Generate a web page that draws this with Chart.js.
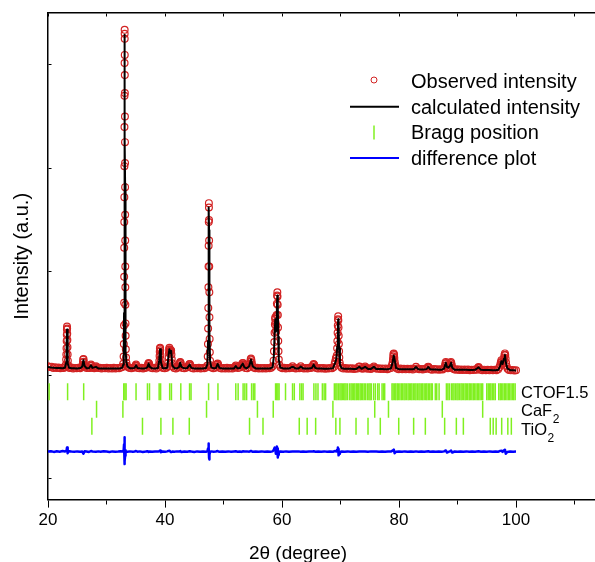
<!DOCTYPE html>
<html>
<head>
<meta charset="utf-8">
<script src="https://cdn.jsdelivr.net/npm/chart.js@4/dist/chart.umd.min.js"></script>
<style>
  html, body { margin: 0; padding: 0; background: #fff; }
  canvas { display: block; }
</style>
</head>
<body>
<canvas id="xrd" width="595" height="562"></canvas>
<script>
// observed points (arbitrary units)
const obsTwoTheta = [
  20.0, 20.3, 20.6, 20.9, 21.2, 21.5, 21.8, 22.1, 22.4, 22.7, 22.95,
  23.05, 23.1, 23.13, 23.16, 23.19, 23.21, 23.23, 23.25, 23.27, 23.29, 23.31, 23.33, 23.36, 23.39, 23.43, 23.5,
  23.7, 24.0, 24.3, 24.6, 24.9, 25.2, 25.5, 25.75,
  25.9, 25.97, 26.02, 26.07, 26.12, 26.18, 26.3, 26.6, 26.9, 27.15,
  27.27, 27.35, 27.43, 27.6, 27.9, 28.1, 28.2, 28.3, 28.55, 28.85,
  29.15, 29.45, 29.75, 30.05, 30.35, 30.65, 30.95, 31.25, 31.55, 31.85, 32.15, 32.45, 32.7,
  32.85, 32.92, 32.96, 32.99, 33.01, 33.02, 33.03, 33.04, 33.05, 33.06, 33.07, 33.08, 33.09, 33.1, 33.102, 33.11, 33.12,
  33.13, 33.14, 33.15, 33.16, 33.17, 33.18, 33.19, 33.2, 33.21, 33.22, 33.23, 33.25, 33.27, 33.3, 33.34, 33.4, 33.5,
  33.65, 33.95, 34.25, 34.55, 34.8, 34.95, 35.05, 35.15, 35.35, 35.65, 35.95, 36.25, 36.55, 36.85,
  37.05, 37.13, 37.2, 37.28, 37.36, 37.6, 37.9, 38.2, 38.5, 38.8,
  38.98, 39.03, 39.07, 39.1, 39.13, 39.16, 39.19, 39.22, 39.26, 39.31, 39.4,
  39.65, 39.95, 40.25, 40.45,
  40.55, 40.62, 40.67, 40.71, 40.75, 40.79, 40.84, 40.9, 40.95, 41.0, 41.05, 41.1, 41.15, 41.2, 41.3,
  41.55, 41.85, 42.15, 42.4, 42.5, 42.56, 42.62, 42.68, 42.76, 43.0, 43.3, 43.6, 43.9,
  44.08, 44.17, 44.25, 44.34, 44.6, 44.9, 45.2, 45.5, 45.8, 46.1, 46.4, 46.7, 47.0, 47.2,
  47.3, 47.34, 47.37, 47.4, 47.42, 47.44, 47.46, 47.48, 47.5, 47.51,
  47.52, 47.54, 47.56, 47.58, 47.6, 47.63, 47.66, 47.7, 47.78,
  47.95, 48.25, 48.55, 48.8, 48.9, 48.98, 49.06, 49.14, 49.4, 49.7,
  50.0, 50.3, 50.6, 50.9, 51.2, 51.5, 51.8, 52.0, 52.1, 52.2, 52.45, 52.75,
  53.05, 53.15, 53.25, 53.33, 53.42, 53.52, 53.75, 54.05, 54.3,
  54.5, 54.58, 54.64, 54.7, 54.77, 54.84, 54.93,
  55.15, 55.45, 55.75, 56.05, 56.35, 56.65, 56.95, 57.25, 57.55, 57.85, 58.15, 58.4,
  58.55, 58.62, 58.68, 58.73, 58.78, 58.82, 58.86, 58.9, 58.95, 59.0, 59.04, 59.08,
  59.12, 59.16, 59.2, 59.23, 59.26, 59.29, 59.32, 59.36, 59.4, 59.45, 59.53,
  59.75, 60.05, 60.35, 60.65, 60.95, 61.25, 61.55, 61.8, 62.05, 62.35, 62.65, 62.95,
  63.2, 63.45, 63.75, 64.05, 64.35, 64.65, 64.95, 65.2, 65.32, 65.4, 65.5, 65.6,
  65.85, 66.15, 66.45, 66.75, 67.05, 67.35, 67.65, 67.95, 68.25, 68.55, 68.85,
  69.0, 69.1, 69.2, 69.28, 69.36, 69.42, 69.46, 69.5, 69.53, 69.57,
  69.6, 69.63, 69.66, 69.69, 69.72, 69.76, 69.8, 69.86, 69.95,
  70.2, 70.5, 70.8, 71.1, 71.4, 71.7, 72.0, 72.3, 72.6, 72.9, 73.15, 73.25,
  73.5, 73.8, 74.05, 74.2, 74.35, 74.6, 74.9, 75.2, 75.5, 75.7, 75.9,
  76.2, 76.5, 76.8, 77.1, 77.4, 77.7, 78.0, 78.3, 78.6, 78.8,
  78.9, 78.96, 79.01, 79.06, 79.1, 79.15, 79.2, 79.26, 79.33, 79.42,
  79.65, 79.95, 80.25, 80.55, 80.85, 81.15, 81.45, 81.75, 82.05, 82.35, 82.65, 82.9,
  83.15, 83.45, 83.75, 84.05, 84.35, 84.65, 84.9, 85.0, 85.1, 85.35,
  85.65, 85.95, 86.25, 86.55, 86.85, 87.15, 87.45, 87.7,
  87.85, 87.93, 88.0, 88.06, 88.13, 88.22, 88.35, 88.5, 88.62, 88.72, 88.8, 88.88, 88.95, 89.03, 89.15,
  89.4, 89.7, 90.0, 90.3, 90.6, 90.9, 91.2, 91.5, 91.8, 92.1, 92.4, 92.7,
  93.0, 93.3, 93.5, 93.6, 93.7, 93.95, 94.25, 94.55, 94.85, 95.15, 95.45, 95.75,
  96.05, 96.35, 96.65, 96.95, 97.15,
  97.3, 97.4, 97.5, 97.6, 97.7, 97.8, 97.9, 97.97, 98.03, 98.1, 98.16, 98.22, 98.3, 98.4, 98.55,
  98.8, 99.1, 99.4, 99.7, 100.0
];
const observed = [
  1085, 1078, 1082, 1070, 1076, 1068, 1073, 1066, 1072, 1069, 1078,
  1100, 1150, 1200, 1260, 1330, 1390, 1440, 1470, 1450, 1400, 1340, 1270, 1200, 1140, 1095, 1075,
  1068, 1073, 1064, 1070, 1066, 1072, 1067, 1078,
  1095, 1125, 1150, 1155, 1130, 1100, 1080, 1068, 1072, 1070,
  1088, 1102, 1090, 1072, 1066, 1074, 1085, 1076, 1068, 1071,
  1064, 1070, 1066, 1072, 1063, 1069, 1065, 1071, 1064, 1070, 1066, 1073, 1078,
  1110, 1180, 1300, 1480, 1700, 1950, 2230, 2480, 2720, 3020, 3398, 3700, 4017, 4337, 4300, 4250, 4095,
  3900, 3727, 3500, 3252, 3050, 2817, 2550, 2300, 2050, 1850, 1680, 1500, 1380, 1250, 1170, 1120, 1090,
  1078, 1070, 1066, 1072, 1076, 1090, 1102, 1088, 1070, 1066, 1072, 1064, 1070, 1074,
  1090, 1108, 1118, 1110, 1090, 1072, 1066, 1071, 1065, 1074,
  1100, 1140, 1185, 1225, 1258, 1265, 1240, 1195, 1150, 1105, 1080,
  1070, 1066, 1072, 1085,
  1120, 1170, 1215, 1250, 1265, 1245, 1220, 1225, 1232, 1240, 1235, 1200, 1155, 1115, 1085,
  1070, 1065, 1071, 1082, 1105, 1122, 1128, 1115, 1092, 1070, 1066, 1072, 1080,
  1095, 1106, 1108, 1092, 1070, 1064, 1070, 1066, 1072, 1064, 1069, 1066, 1073, 1090,
  1180, 1300, 1450, 1650, 1850, 2050, 2250, 2480, 2662, 2620,
  2500, 2300, 2050, 1800, 1560, 1350, 1220, 1140, 1095,
  1074, 1066, 1071, 1082, 1100, 1112, 1108, 1088, 1070, 1064,
  1070, 1065, 1071, 1063, 1069, 1065, 1072, 1082, 1092, 1078, 1068, 1073,
  1090, 1105, 1116, 1118, 1102, 1085, 1070, 1066, 1078,
  1105, 1130, 1152, 1160, 1145, 1118, 1092,
  1074, 1066, 1071, 1064, 1069, 1065, 1070, 1063, 1068, 1066, 1072, 1085,
  1140, 1230, 1320, 1410, 1490, 1545, 1560, 1510, 1430, 1420, 1480, 1580,
  1690, 1770, 1800, 1760, 1680, 1580, 1460, 1330, 1230, 1150, 1100,
  1075, 1066, 1071, 1064, 1069, 1066, 1072, 1085, 1070, 1065, 1070, 1066,
  1086, 1070, 1064, 1069, 1065, 1071, 1068, 1080, 1098, 1108, 1100, 1082,
  1068, 1064, 1069, 1063, 1068, 1062, 1067, 1064, 1070, 1066, 1078,
  1110, 1135, 1160, 1168, 1190, 1260, 1330, 1410, 1480, 1540,
  1568, 1530, 1460, 1380, 1300, 1230, 1170, 1120, 1090,
  1072, 1065, 1069, 1062, 1067, 1061, 1066, 1060, 1065, 1063, 1080, 1084,
  1066, 1061, 1068, 1084, 1070, 1062, 1066, 1060, 1068, 1084, 1068,
  1061, 1066, 1059, 1064, 1060, 1065, 1058, 1063, 1068, 1095,
  1120, 1150, 1180, 1205, 1210, 1195, 1165, 1130, 1100, 1078,
  1064, 1058, 1063, 1057, 1062, 1056, 1061, 1057, 1062, 1055, 1062, 1080,
  1064, 1056, 1060, 1055, 1060, 1062, 1076, 1082, 1074, 1058,
  1053, 1059, 1054, 1058, 1052, 1057, 1054, 1066,
  1090, 1112, 1128, 1118, 1095, 1075, 1066, 1070, 1082, 1100, 1118, 1128, 1115, 1092, 1068,
  1056, 1051, 1056, 1050, 1055, 1049, 1054, 1050, 1055, 1048, 1053, 1049,
  1054, 1052, 1072, 1078, 1066, 1052, 1048, 1053, 1047, 1052, 1046, 1051,
  1047, 1052, 1048, 1056, 1075,
  1100, 1125, 1145, 1130, 1112, 1115, 1140, 1170, 1195, 1210, 1195, 1160, 1120, 1085, 1062,
  1050, 1046, 1049, 1044, 1046
];

// calculated profile and difference curve share one 2theta grid
const calcTwoTheta = [
  20.0, 20.5, 21.0, 21.5, 22.0, 22.5, 22.9, 23.1, 23.18, 23.25,
  23.32, 23.4, 23.6, 24.0, 24.5, 25.0, 25.5, 25.85, 26.05, 26.25,
  26.6, 27.0, 27.35, 27.6, 28.2, 28.6, 29.0, 29.5, 30.0, 30.5,
  31.0, 31.5, 32.0, 32.4, 32.7, 32.85, 32.95, 33.0, 33.03, 33.05,
  33.07, 33.09, 33.1, 33.12, 33.14, 33.16, 33.18, 33.21, 33.25, 33.3,
  33.4, 33.6, 34.0, 34.5, 34.8, 35.05, 35.3, 35.7, 36.2, 36.7,
  37.0, 37.2, 37.4, 37.8, 38.3, 38.8, 39.0, 39.15, 39.3, 39.6,
  40.0, 40.4, 40.6, 40.75, 40.9, 41.05, 41.25, 41.6, 42.0, 42.4,
  42.6, 42.8, 43.3, 43.8, 44.2, 44.5, 45.0, 45.5, 46.0, 46.5,
  47.0, 47.25, 47.35, 47.42, 47.47, 47.5, 47.53, 47.57, 47.62, 47.7,
  47.9, 48.3, 48.7, 49.0, 49.3, 49.8, 50.3, 50.8, 51.3, 51.8,
  52.1, 52.4, 52.8, 53.1, 53.3, 53.6, 54.0, 54.4, 54.7, 55.0,
  55.5, 56.0, 56.5, 57.0, 57.5, 58.0, 58.4, 58.6, 58.75, 58.85,
  58.95, 59.05, 59.12, 59.2, 59.28, 59.35, 59.45, 59.7, 60.2, 60.7,
  61.2, 61.8, 62.3, 62.8, 63.2, 63.6, 64.1, 64.6, 65.1, 65.4,
  65.7, 66.2, 66.7, 67.2, 67.7, 68.2, 68.7, 69.1, 69.3, 69.45,
  69.55, 69.6, 69.67, 69.75, 69.9, 70.2, 70.7, 71.2, 71.7, 72.2,
  72.7, 73.2, 73.6, 74.2, 74.7, 75.2, 75.7, 76.1, 76.6, 77.1,
  77.6, 78.1, 78.6, 78.9, 79.1, 79.25, 79.5, 80.0, 80.5, 81.0,
  81.5, 82.0, 82.5, 82.9, 83.3, 83.8, 84.3, 84.7, 85.0, 85.3,
  85.8, 86.3, 86.8, 87.3, 87.7, 88.0, 88.2, 88.45, 88.7, 88.9,
  89.1, 89.5, 90.0, 90.5, 91.0, 91.5, 92.0, 92.5, 93.0, 93.6,
  94.0, 94.5, 95.0, 95.5, 96.0, 96.5, 97.0, 97.3, 97.5, 97.7,
  97.95, 98.1, 98.25, 98.5, 99.0, 99.5, 100.0
];
const calculated = [
  1078, 1074, 1071, 1069, 1068, 1067, 1072, 1120, 1280, 1440,
  1290, 1115, 1072, 1067, 1066, 1065, 1068, 1082, 1145, 1088,
  1067, 1066, 1095, 1070, 1080, 1065, 1064, 1064, 1065, 1064,
  1063, 1064, 1064, 1066, 1072, 1100, 1270, 1600, 2150, 2650,
  3350, 4000, 4290, 4150, 3800, 3300, 2850, 2060, 1490, 1240,
  1125, 1082, 1067, 1066, 1070, 1095, 1069, 1066, 1065, 1066,
  1078, 1112, 1080, 1066, 1065, 1068, 1140, 1250, 1125, 1068,
  1066, 1072, 1190, 1250, 1215, 1235, 1095, 1067, 1066, 1078,
  1120, 1080, 1066, 1068, 1102, 1070, 1065, 1065, 1064, 1064,
  1068, 1105, 1330, 1860, 2350, 2620, 2400, 1880, 1410, 1140,
  1078, 1066, 1068, 1108, 1070, 1064, 1065, 1064, 1064, 1065,
  1088, 1066, 1068, 1095, 1112, 1073, 1066, 1087, 1150, 1084,
  1065, 1064, 1064, 1063, 1063, 1065, 1078, 1180, 1420, 1540,
  1420, 1440, 1660, 1770, 1660, 1370, 1150, 1074, 1065, 1064,
  1064, 1082, 1065, 1064, 1082, 1065, 1064, 1064, 1068, 1102,
  1069, 1063, 1063, 1062, 1062, 1063, 1066, 1120, 1160, 1280,
  1470, 1540, 1480, 1260, 1100, 1067, 1062, 1061, 1061, 1060,
  1060, 1080, 1061, 1080, 1060, 1060, 1080, 1060, 1059, 1059,
  1058, 1058, 1063, 1120, 1190, 1150, 1069, 1058, 1057, 1057,
  1056, 1056, 1056, 1078, 1056, 1055, 1055, 1058, 1079, 1057,
  1054, 1054, 1053, 1053, 1063, 1120, 1078, 1072, 1088, 1120,
  1072, 1053, 1052, 1052, 1051, 1051, 1050, 1050, 1051, 1075,
  1051, 1050, 1049, 1049, 1048, 1048, 1053, 1090, 1135, 1108,
  1160, 1195, 1130, 1066, 1048, 1046, 1044
];
// difference curve, already shifted below the Bragg rows
const difference = [
  262, 265, 258, 264, 260, 266, 262, 270, 275, 300,
  245, 258, 264, 261, 259, 263, 260, 262, 240, 265,
  262, 258, 266, 262, 260, 263, 259, 264, 261, 258,
  263, 260, 262, 265, 262, 270, 290, 330, 370, 400,
  360, 300, 250, 180, 140, 170, 220, 250, 275, 268,
  262, 260, 263, 259, 262, 266, 260, 263, 258, 262,
  265, 258, 262, 260, 263, 261, 266, 270, 255, 262,
  259, 263, 268, 270, 262, 256, 262, 260, 263, 261,
  266, 258, 262, 260, 264, 261, 258, 263, 260, 262,
  259, 265, 290, 320, 340, 300, 200, 185, 230, 258,
  263, 260, 262, 266, 259, 262, 260, 263, 259, 262,
  264, 260, 262, 258, 264, 261, 263, 260, 267, 259,
  262, 260, 263, 259, 262, 260, 263, 280, 300, 285,
  240, 270, 310, 290, 205, 230, 260, 262, 259, 263,
  260, 262, 261, 263, 259, 262, 260, 263, 261, 265,
  259, 262, 260, 263, 259, 262, 260, 266, 262, 280,
  300, 285, 225, 240, 258, 262, 260, 263, 259, 262,
  260, 263, 261, 262, 259, 263, 261, 262, 259, 262,
  260, 263, 261, 270, 280, 245, 260, 262, 259, 263,
  260, 262, 259, 263, 260, 262, 259, 262, 264, 260,
  262, 259, 262, 260, 263, 272, 252, 258, 263, 270,
  252, 262, 259, 262, 260, 263, 259, 262, 260, 264,
  260, 262, 259, 263, 260, 262, 260, 268, 270, 258,
  275, 280, 240, 258, 262, 260, 261
];

// Bragg reflection positions (2theta) for each phase
const braggCTOF = [
  20.2, 23.35, 26.1, 32.95, 33.15, 33.35, 35.05, 37.0, 37.35, 39.0, 39.25, 40.8, 41.1,
  42.7, 44.2, 44.45, 47.45, 49.05, 52.1, 52.5, 53.35, 53.65, 53.95, 54.8, 55.1, 55.35,
  58.9, 59.1, 59.3, 59.5, 60.6, 61.8, 62.1, 63.05, 63.35, 63.6, 65.45, 65.8, 66.15,
  66.9, 67.2, 67.45, 68.95, 69.2, 69.4, 69.65, 69.9, 70.1, 70.3, 70.55, 70.75, 70.95,
  71.2, 71.55, 71.8, 72.0, 72.25, 72.45, 72.7, 72.9, 73.1, 73.35, 73.55, 73.8, 74.05,
  74.3, 74.6, 74.85, 75.05, 75.25, 75.65, 75.95, 76.35, 76.6, 77.1, 77.35, 77.55,
  78.8, 79.0, 79.25, 79.45, 79.7, 79.9, 80.15, 80.4, 80.6, 80.85, 81.05, 81.3, 81.55,
  81.75, 82.0, 82.2, 82.45, 82.7, 82.9, 83.15, 83.4, 83.6, 83.85, 84.05, 84.3, 84.55,
  84.75, 85.0, 85.25, 85.5, 85.7, 86.2, 86.45, 86.85, 88.1, 88.35, 88.6, 88.95, 89.2,
  89.4, 89.65, 89.9, 90.1, 90.35, 90.6, 90.8, 91.05, 91.3, 91.5, 91.75, 92.0, 92.2,
  92.45, 92.7, 92.9, 93.15, 93.4, 93.6, 93.85, 94.1, 94.3, 95.0, 95.25, 95.5, 95.7,
  95.95, 96.2, 96.45, 97.05, 97.3, 97.5, 97.75, 98.0, 98.2, 98.45, 98.7, 98.9, 99.15,
  99.4, 99.6, 99.85
];
const braggCaF2 = [28.3, 32.8, 47.1, 55.8, 58.5, 68.7, 75.85, 78.2, 87.4, 94.3];
const braggTiO2 = [
  27.5, 36.15, 39.3, 41.35, 44.15, 54.45, 56.75, 62.95, 64.3, 65.75, 69.2, 69.9,
  72.65, 74.7, 76.8, 79.95, 82.5, 84.5, 87.8, 89.8, 91.0, 95.6, 96.1, 96.6, 97.55,
  98.6, 99.2
];

const xTicks = [20, 30, 40, 50, 60, 70, 80, 90, 100, 110];
const yTicks = [0, 1000, 2000, 3000, 4000];
const legendLabels = ['Observed intensity', 'calculated intensity', 'Bragg position', 'difference plot'];
const phaseNames = [['CTOF1.5', ''], ['CaF', '2'], ['TiO', '2']];

// look
const FONT = '"Liberation Sans", Arial, Helvetica, sans-serif';
const RED = '#d22222';
const GREEN = 'rgb(128,240,32)';
const BLUE = '#0000ff';
const braggRowLevel = [840, 670, 505];   // vertical level of each tick row
const phaseLabelDrop = [6.5, 7, 9];

Chart.defaults.font.family = FONT;
Chart.defaults.color = '#000';

const pts = (xs, ys) => xs.map((v, i) => ({ x: v, y: ys[i] }));
const row = (xs, level) => xs.map(v => ({ x: v, y: level }));

const braggSet = (label, xs, level) => ({
  label: label,
  data: row(xs, level),
  pointStyle: 'line',
  pointRotation: 90,
  pointRadius: 8.5,
  pointBorderWidth: 1.5,
  pointBorderColor: GREEN,
  borderColor: GREEN,
  order: 2
});

// text drawn on top: phase names, legend, x-axis title
const overlayText = {
  id: 'overlayText',
  afterDatasetsDraw(chart) {
    const { ctx, scales: { y } } = chart;
    ctx.save();
    ctx.fillStyle = '#000';
    ctx.textAlign = 'left';
    ctx.textBaseline = 'alphabetic';

    phaseNames.forEach(([name, sub], i) => {
      const py = y.getPixelForValue(braggRowLevel[i]) + phaseLabelDrop[i];
      ctx.font = '16.5px ' + FONT;
      ctx.fillText(name, 521, py);
      if (sub) {
        const w = ctx.measureText(name).width;
        ctx.font = '12px ' + FONT;
        ctx.fillText(sub, 521 + w + 0.5, py + 7);
      }
    });

    // legend
    ctx.font = '20px ' + FONT;
    legendLabels.forEach((label, i) => {
      const base = 88 + i * 25.7;
      const mid = base - 7;
      ctx.beginPath();
      if (i === 0) {
        ctx.strokeStyle = RED;
        ctx.lineWidth = 1;
        ctx.arc(374, mid - 1, 3, 0, Math.PI * 2);
      } else if (i === 2) {
        ctx.strokeStyle = GREEN;
        ctx.lineWidth = 1.5;
        ctx.moveTo(374, mid - 7);
        ctx.lineTo(374, mid + 7);
      } else {
        ctx.strokeStyle = i === 1 ? '#000' : BLUE;
        ctx.lineWidth = 2;
        ctx.moveTo(350, mid);
        ctx.lineTo(399, mid);
      }
      ctx.stroke();
      ctx.fillText(label, 411, base);
    });

    ctx.font = '19px ' + FONT;
    ctx.textAlign = 'center';
    ctx.fillText('2\u03B8 (degree)', 298, 559);
    ctx.restore();
  }
};

const tickDash = c => (c.type === 'tick' ? [3, 2000] : []);
const noRightPad = s => { s.paddingRight = 0; };

new Chart(document.getElementById('xrd'), {
  type: 'scatter',
  data: {
    datasets: [
      {
        label: legendLabels[1],
        data: pts(calcTwoTheta, calculated),
        showLine: true,
        borderColor: '#000',
        borderWidth: 2,
        borderJoinStyle: 'round',
        pointRadius: 0,
        order: 0
      },
      {
        label: legendLabels[0],
        data: pts(obsTwoTheta, observed),
        pointStyle: 'circle',
        pointRadius: 3.4,
        pointBorderWidth: 1.2,
        pointBorderColor: RED,
        pointBackgroundColor: 'rgba(0,0,0,0)',
        order: 1
      },
      braggSet('CTOF1.5', braggCTOF, braggRowLevel[0]),
      braggSet('CaF2', braggCaF2, braggRowLevel[1]),
      braggSet('TiO2', braggTiO2, braggRowLevel[2]),
      {
        label: legendLabels[3],
        data: pts(calcTwoTheta, difference),
        showLine: true,
        borderColor: BLUE,
        borderWidth: 2.5,
        borderJoinStyle: 'round',
        pointRadius: 0,
        order: 0
      }
    ]
  },
  options: {
    responsive: false,
    animation: false,
    devicePixelRatio: 1,
    layout: { autoPadding: false, padding: { top: 13, right: 0, bottom: 28, left: 0 } },
    plugins: { legend: { display: false }, tooltip: { enabled: false } },
    scales: {
      x: {
        type: 'linear',
        position: 'bottom',
        min: 20,
        max: 113.5,
        afterBuildTicks: s => { s.ticks = xTicks.map(v => ({ value: v })); },
        afterFit: noRightPad,
        ticks: {
          callback: v => (v % 20 === 0 ? v : ''),
          font: { size: 17 },
          color: '#000',
          padding: 3,
          maxRotation: 0,
          autoSkip: false
        },
        grid: {
          drawOnChartArea: false,
          tickLength: 8,
          tickColor: '#000',
          tickWidth: 1,
          tickBorderDash: c => (c.tick && c.tick.value % 20 === 0 ? [] : [4, 100])
        },
        border: { color: '#000', width: 1.5 }
      },
      xTop: {
        type: 'linear',
        position: 'top',
        min: 20,
        max: 113.5,
        afterBuildTicks: s => { s.ticks = xTicks.map(v => ({ value: v })); },
        afterFit: noRightPad,
        ticks: { display: false },
        grid: { drawTicks: false, color: '#000', lineWidth: 1 },
        border: { color: '#000', width: 1.5, dash: tickDash }
      },
      y: {
        min: -203,
        max: 4500,
        afterBuildTicks: s => { s.ticks = yTicks.map(v => ({ value: v })); },
        ticks: { display: false },
        grid: { drawTicks: false, color: '#000', lineWidth: 1 },
        border: { color: '#000', width: 1.5, dash: tickDash },
        title: {
          display: true,
          text: 'Intensity (a.u.)',
          font: { size: 20 },
          color: '#000',
          padding: { top: 10, bottom: 14 }
        }
      }
    }
  },
  plugins: [overlayText]
});
</script>
</body>
</html>
